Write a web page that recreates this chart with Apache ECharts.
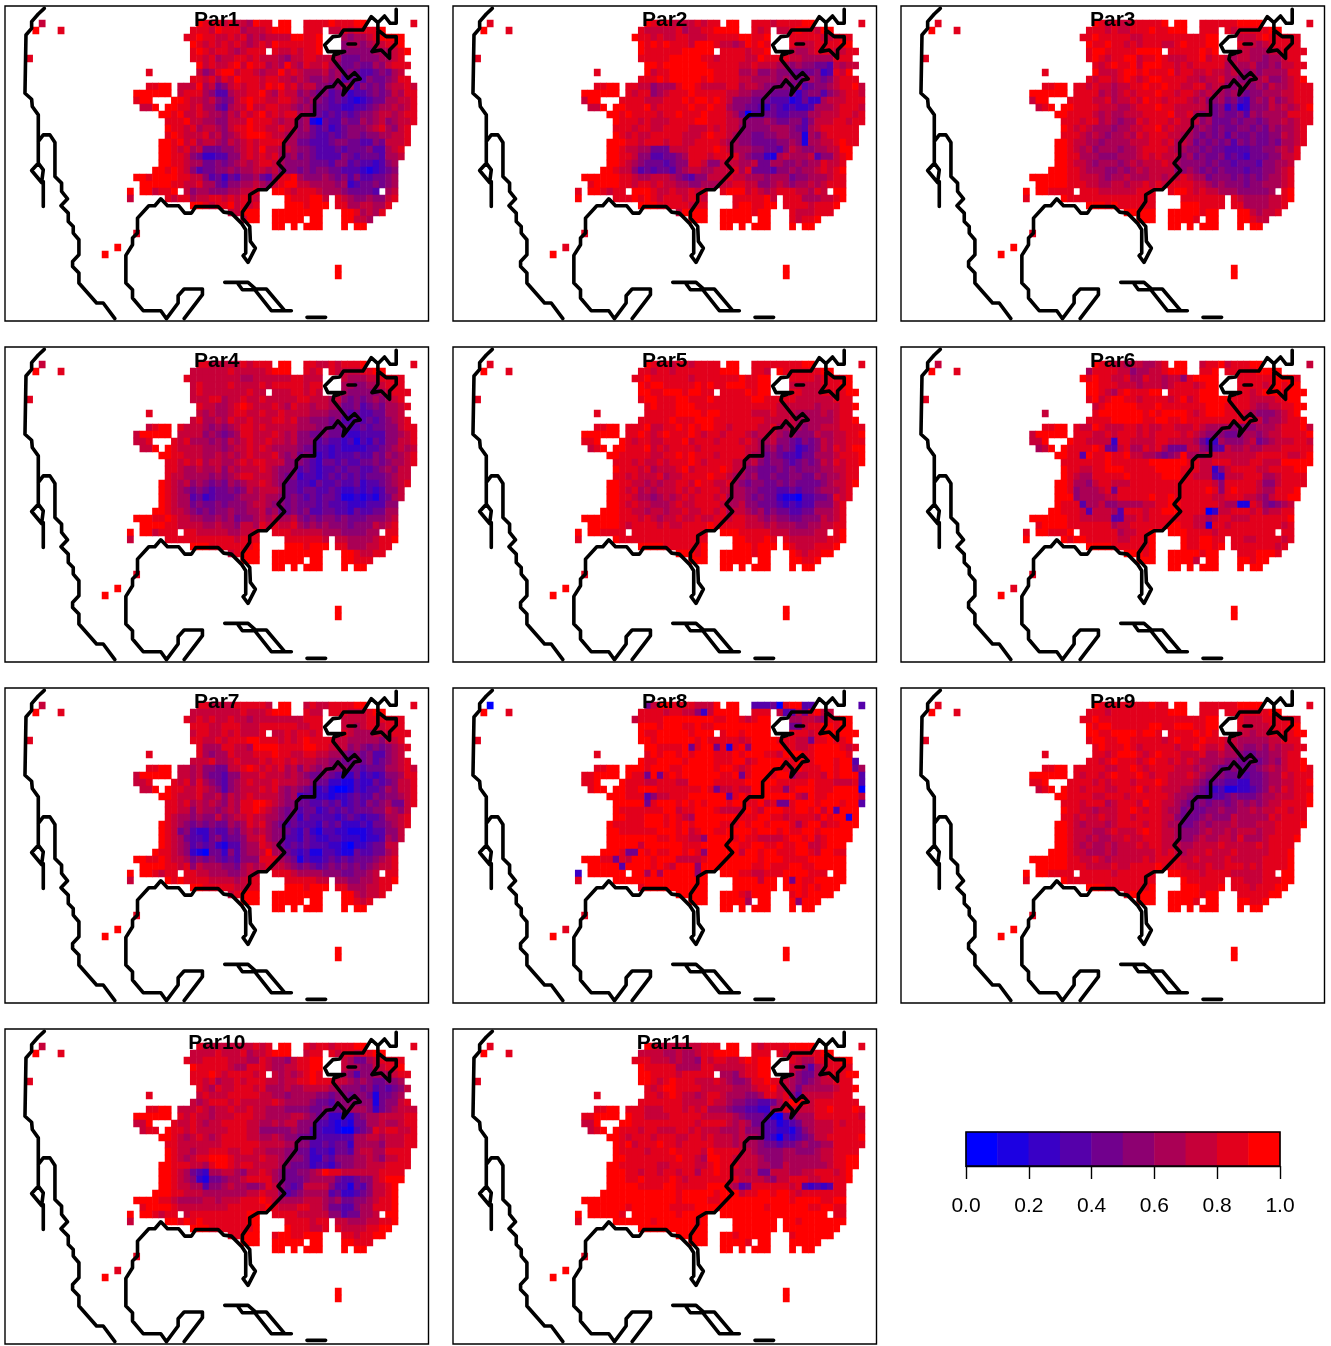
<!DOCTYPE html>
<html><head><meta charset="utf-8">
<style>html,body{margin:0;padding:0;background:#fff}#c{width:1331px;height:1346px}</style>
<script src="https://cdn.jsdelivr.net/npm/echarts@6/dist/echarts.min.js"></script>
</head><body><div id="c"></div>
<script>
const COLORS=['#0000FF','#1C00E2','#3900C6','#5500AA','#71008D','#8D0071','#AA0055','#C60039','#E2001C','#FF0000'];
const LEGEND_LEVELS=[0.05,0.15,0.25,0.35,0.45,0.55,0.65,0.75,0.85,0.95];
const NAMES=['Par1','Par2','Par3','Par4','Par5','Par6','Par7','Par8','Par9','Par10','Par11'];
const N9='99999 99999 99999 99999 99999 99999 99999 99999 99999';
// land cells, 45 columns starting at column 20
const MASK=[
'..........############.##..##########........',
'.........################..###.#########.....',
'........######################...##########..',
'.........#####################...##########..',
'.........############.########...###########.',
'.........##################################..',
'..........##################################.',
'..........#################################..',
'.........###################################.',
'..####.######################################',
'######.######################################',
'###...#######################################',
'.###.########################################',
'....#########################################',
'.....########################################',
'.....#######################################.',
'.....#######################################.',
'....########################################.',
'....#######################################..',
'....#######################################..',
'....######################################...',
'...#######################################...',
'##########################################...',
'.#########################################...',
'.######.############..#################.##...',
'.....###############....#######.##########...',
'.........###########....#######.#########....',
'...............#####..########...#######.....',
'.................###..#####.##...#####.......',
'......................##.#.###...#.##........'];
// isolated cells outside the main block: [column,row]
const ISO_CELLS=[[5,0],[4,1],[8,1],[3,5],[22,7],[64,0],[19,24],[19,25],[20,30],[17,32],[15,33],[52,35],[52,36]];
const ISO_VALUES=[
'7988889789999','8988888988999','8988889889999','7988889789999','8988889889999','7988778988999',
'7988889789999','0988832888999','8988889889999','7988889788999','8988889889999'];
const PAR1=[
'99999 99999 98887 87769 88999 99888 89888 99999 99999',
'99999 99998 88798 88677 78999 99888 77787 88889 99999',
'99999 99988 98877 87867 67777 99889 77765 66789 99999',
'99999 99999 87878 78767 87988 88889 66656 65677 88999',
'99999 99998 98788 76788 89877 87889 66555 55566 67899',
'99999 99998 87867 78878 77765 77887 77644 45556 67889',
'99999 99998 97877 89798 86769 76877 86544 54465 78889',
'99999 99997 75689 97887 67797 87666 75645 43345 46788',
'99999 99998 87868 79888 78877 67655 65634 43544 56889',
'99889 99777 96745 78788 79897 86775 54566 35454 67787',
'99999 98788 86533 67788 97687 75654 53442 33454 57688',
'89999 99987 76754 57898 87788 76565 43432 12344 66778',
'77799 99887 86643 67797 78877 65654 43322 33456 67678',
'99999 98977 87665 76878 97878 86654 34343 45567 76788',
'99999 88897 76655 77798 88767 75610 43354 46567 56778',
'99999 98878 67765 78898 87787 75643 42345 55678 65788',
'99999 89877 78675 67899 98776 65543 34345 54556 67788',
'99999 98978 67765 76787 88886 64433 34554 43354 77788',
'99999 98786 74445 56787 97767 65543 33434 44533 67889',
'99999 98875 42233 55787 87865 64543 33354 34443 66789',
'99999 98876 64454 56767 88765 55544 43553 43323 56888',
'99999 89875 34455 65667 76755 54545 54433 32123 45889',
'99899 99887 75342 43556 43688 96555 65453 53344 56999',
'89999 98877 86643 55667 65789 97766 66562 34454 56899',
'99978 89775 66555 66778 89998 78887 66654 44434 67899',
'99889 87886 77887 87887 78889 88899 78876 55655 78999',
'99999 98899 98788 97878 88899 99899 99886 67766 87999',
'99999 99999 99997 77999 99999 99999 99999 86768 89999',
'99999 99999 99999 99799 99999 99999 99999 77688 99999',N9];
const PAR2=[
'99999 99999 98887 77787 88999 99888 78888 99999 99999',
'99999 99998 77777 86778 89999 99878 87789 88799 99999',
'99999 99998 87877 88777 88888 99889 98888 88877 88899',
'99999 99999 89898 88799 98776 79898 98887 77888 89999',
'99999 99999 88888 89999 99888 87889 98876 67888 77889',
'99999 99998 88889 99998 87888 87798 88877 66666 88889',
'99999 99999 99899 99999 88888 77877 76656 55443 76777',
'99999 99998 97889 99999 98888 66755 65544 44523 87999',
'99999 99998 88989 99998 98888 77666 65654 56545 78889',
'99889 99887 75666 89987 77788 67765 55546 34556 78897',
'99999 98878 85678 88988 88877 66555 44442 45535 67887',
'79999 98888 77788 89899 89875 55444 33312 42267 77888',
'77799 99888 97888 88988 98865 54432 43232 23666 78887',
'99999 98988 88788 98889 88876 40334 43344 46677 78878',
'99999 98887 87778 88899 88877 65556 54455 35777 88788',
'99999 88878 87788 88777 87877 55555 66654 36788 88888',
'99999 98787 78888 87778 98876 55445 56655 16578 88887',
'99999 99887 88878 87788 88766 55444 45565 16677 89888',
'99999 98776 64447 77888 89876 66554 43576 55667 79988',
'99999 98875 53344 56888 78888 65442 16766 67355 78999',
'99999 98765 44434 55887 55777 66744 66556 56687 78999',
'99999 87753 43443 56776 67778 68444 35565 66787 89889',
'99999 98876 67776 54355 77787 76665 66645 56667 88899',
'88999 98878 87877 66556 66778 87755 67656 67678 88899',
'99987 88899 98778 77878 88899 97876 78887 76878 99999',
'99888 88898 98788 87887 89888 88889 77888 66677 89999',
'99999 99899 99888 88788 88998 99889 99888 87888 99999',
'99999 99999 99988 79999 99999 99899 99887 77888 99999',
'99999 99999 99999 99999 99999 99999 99887 88999 99999',N9];
const PAR3=[
'99999 99999 98787 78888 89999 99888 88899 99999 99999',
'99999 99998 88787 78889 88999 99888 88788 88899 99999',
'99999 99988 98888 87788 88888 88899 99877 78988 88899',
'99999 99999 88988 78788 87789 88899 98887 76788 88899',
'99999 99998 99888 88999 98888 88989 88877 66677 88889',
'99999 99998 98788 99788 98777 88978 87677 66566 78889',
'99999 99999 87898 89799 98878 78888 86766 75565 77889',
'99999 99998 97778 99898 88978 87787 76765 65666 68889',
'99999 99998 78878 98789 98888 77677 86655 66755 67899',
'99889 99887 87767 78898 89887 78867 75566 56576 67888',
'99999 98888 86767 87888 98878 87676 65654 55666 77888',
'79999 98888 77867 78798 87888 76755 64532 56575 67888',
'77899 99888 87776 67888 98877 77764 52412 55576 76789',
'99999 98888 76766 77788 88977 86564 54453 65666 68888',
'99999 88878 86765 66878 88787 77564 44545 54566 76788',
'99999 98787 66656 67788 97877 75654 54455 45465 66788',
'99999 88876 76566 76878 88776 65454 53544 54455 76788',
'99999 98776 65666 67778 87867 64545 45354 54454 66789',
'99999 98767 56665 66788 88766 55454 43333 44556 76889',
'99999 98866 65556 66787 87775 64544 53432 44455 77899',
'99999 98776 56665 67677 78765 55545 44344 43556 67899',
'99999 98876 66556 56767 77755 65454 54443 44556 78899',
'99999 98877 76566 76667 76778 76645 55454 54566 78899',
'99999 98887 76677 67787 87888 87765 65554 55666 78999',
'99988 88888 87777 77888 88899 87877 66655 55567 89999',
'99888 98888 88888 88888 89888 88888 88876 66677 89999',
'99999 89899 99898 88888 88999 99888 88886 66677 89999',
'99999 99999 99999 99999 99999 99899 88999 76778 89999',
'99999 99999 99999 99999 99999 98999 99999 87789 99999',N9];
const PAR4=[
'99999 99999 88777 77878 88999 99887 78788 89999 99999',
'99999 99987 77777 87777 78999 99878 88777 78899 99999',
'99999 99987 77777 77667 77777 88777 88776 66778 88899',
'99999 99997 87777 87777 87888 88788 77766 55667 88899',
'99999 99987 87777 77787 78777 88787 77665 55556 78889',
'99999 99987 77886 77877 87777 78877 76754 54565 67889',
'99999 99988 87766 78987 77876 87767 76644 53454 66789',
'99999 99987 76766 78877 87787 77766 65543 43344 66789',
'99999 99987 86676 87787 77887 86655 54533 43434 56789',
'99789 98877 76565 67887 87777 76665 54443 34344 55788',
'79999 98777 75654 56887 77876 75544 54432 23333 55678',
'77889 98786 66565 76787 78776 75553 43323 13243 55778',
'67799 98777 76665 67787 87666 65443 32322 22334 56767',
'99999 98877 76676 76787 77865 64542 32333 43354 65678',
'99999 88787 86776 67878 87775 55432 44343 34454 56678',
'99999 88766 76675 76777 87655 53432 33434 43345 65778',
'99999 87766 66565 67887 77654 52332 34343 43444 56778',
'99999 87675 65454 65677 87654 43324 33433 42334 56789',
'99999 87654 54344 54576 77764 43443 34322 32323 55789',
'99999 87663 42344 45666 76654 54343 44311 21213 46789',
'99999 87664 54454 55567 76554 54443 43332 22333 55788',
'99999 87765 45455 65566 75644 54533 44332 43344 66889',
'99988 98776 65565 64556 76766 75454 55454 44555 67899',
'89999 88777 76676 65776 87877 86565 65554 55576 78899',
'99978 88888 77777 66778 88888 77777 66655 55667 88899',
'99889 88888 88888 87888 88888 88888 77776 66678 89999',
'99999 89899 99888 88889 98999 99899 99886 66778 89999',
'99999 99999 99997 78999 99999 99999 99999 87788 99999',
'99999 99999 99999 99999 99999 99999 99999 88899 99999',N9];
const PAR5=[
'99999 99999 98887 88788 88999 99888 88888 99999 99999',
'99999 99998 87887 88888 88999 99887 89888 88899 99999',
'99999 99988 98888 88788 88888 98899 99888 88788 88999',
'99999 99999 89988 88898 98899 98899 98877 77788 89999',
'99999 99999 98899 98998 89888 89899 98888 77788 88999',
'99999 99998 99888 99888 98888 88998 88887 77777 88899',
'99999 99998 89888 99988 88888 88888 87777 77677 78899',
'99999 99998 88888 99998 99888 88777 87776 66676 78899',
'99999 99998 88889 88899 98888 88887 77776 66666 78899',
'99889 99888 97788 98989 98878 88877 86676 56677 78888',
'99999 99889 87898 88987 88788 87677 76565 55766 77889',
'88999 99878 87788 89788 87888 78766 75543 54576 77888',
'87899 99888 97878 88878 88888 87765 64542 34576 87899',
'99999 98888 87788 98988 87888 87664 54332 44666 78889',
'99999 88878 77878 88987 88887 76754 55434 54576 87889',
'99999 98887 86777 89788 88987 75544 45454 55566 77889',
'99999 88787 77867 78888 98876 65644 54455 44656 67889',
'99999 98877 67677 88798 87786 54554 45454 44456 77899',
'99999 98786 76777 87878 88776 65544 43343 44566 67899',
'99999 98876 65676 78788 87866 65454 42110 33445 87899',
'99999 98787 76667 87788 88766 75544 43232 33555 78899',
'99999 98877 67767 78778 87867 76564 54433 44666 78899',
'99999 98887 87677 87787 78878 87765 65544 55576 78999',
'99999 98788 88787 78888 98888 87776 76665 56677 88999',
'99988 88888 88888 88888 88999 88888 77766 66778 89999',
'99889 98888 88888 88888 89899 98889 88877 77778 89999',
'99999 89899 99988 88889 98999 99899 99987 77888 99999',
'99999 99999 99999 99989 99999 99899 99998 78899 99999',
'99999 99999 99999 99999 99999 99999 99999 88999 99999',N9];
const PAR6=[
'99999 99999 98877 67766 78999 99788 97888 99999 99999',
'99999 99996 88887 75667 78999 99889 88888 89999 99999',
'99999 99998 98877 86687 76775 89999 88888 88889 99899',
'99999 99999 98887 77677 76788 87899 99988 88789 89999',
'99999 99999 98768 98889 98888 88999 98888 78999 89999',
'99999 99998 97899 88788 88789 78999 99888 77778 89999',
'99999 99988 78999 99888 98888 88899 98888 76677 88999',
'99999 99997 89999 99989 89999 87899 98887 65556 78999',
'99999 99988 88899 99988 99889 88888 88888 77566 78899',
'99889 99877 98777 88787 78877 78766 66555 56667 88897',
'79999 99888 77878 88787 88887 87655 54456 65677 88889',
'77999 99887 77728 87777 88777 76422 65556 74567 77887',
'66799 98888 98437 86687 86444 77543 37667 66777 88888',
'99999 98839 88988 97766 54569 66677 77777 78888 87789',
'99999 88888 88988 88889 99999 88778 88777 88777 99999',
'99999 98877 88999 88888 99998 88772 57888 87788 88999',
'99999 98766 88888 98888 89998 87773 27778 88667 88889',
'99999 98665 78877 78888 88888 88887 58888 87557 88889',
'99999 98566 67848 88888 88888 88898 58988 87668 88999',
'99999 99566 66778 88889 88988 88887 78887 76578 89999',
'99999 88836 67556 66677 88998 88888 76611 87545 67889',
'99999 88873 77763 88878 89998 88802 77888 78677 88899',
'99999 98877 77733 77878 88888 87767 88777 88888 89999',
'88999 98888 88867 78888 88998 87718 87888 88888 78889',
'99988 89988 88886 77889 98999 88887 88888 88888 88799',
'99889 98998 88887 78889 89899 88998 88887 78888 78999',
'99999 89899 99988 88889 98999 88998 99888 88887 89999',
'99999 99999 99999 99989 99999 99899 99988 89998 99999',
'99999 99999 99999 99999 99999 97999 99999 89999 99999',N9];
const PAR7=[
'99999 99999 88777 78888 87999 99787 78888 99999 99999',
'99999 99987 77777 77877 78999 99877 88887 77899 99999',
'99999 99987 87877 87767 77777 77888 78877 77888 88899',
'99999 99998 88778 88777 88888 87788 98877 67887 88899',
'99999 99997 88778 78777 88778 78878 88887 66677 78889',
'99999 99998 87787 88899 88878 78988 88776 66665 77889',
'99999 99997 86668 87769 99988 88998 87775 65454 56789',
'99999 99997 86566 87778 88988 77887 76654 54533 56788',
'99999 99987 77866 78777 87887 87776 65544 54534 56788',
'99889 99776 75544 77898 78786 75765 65554 43444 66787',
'79999 98776 75443 55777 87776 76544 54322 42323 55688',
'77899 98786 86543 56787 77877 76654 42211 32243 45778',
'67799 98877 87653 56777 87865 65432 31001 32334 65778',
'99999 98777 86675 76787 77765 62332 21223 43354 55678',
'99999 88786 76765 76889 98765 54433 43423 43545 64478',
'99999 88775 76656 76889 87654 53442 34343 44455 76578',
'99999 87665 65575 67787 76654 42433 33234 32334 66788',
'99999 87654 54544 65687 86543 43332 43422 23244 56789',
'99999 87453 22433 54676 76554 32421 33221 11233 55789',
'99999 87643 32453 44577 86553 32432 23322 21223 65789',
'99999 87653 43421 33566 87643 43433 32210 22344 77899',
'99998 87652 10442 53566 79664 32311 33211 43344 67899',
'99889 87764 54543 43555 88865 41322 34343 44456 78899',
'89999 88785 76665 54676 78776 54543 45454 54567 78899',
'99987 88788 77666 55677 88888 76666 55544 55678 88999',
'99889 98988 88777 76788 88888 88887 77665 56678 89999',
'99999 99899 98888 87788 88999 99899 99886 66778 89999',
'99999 99999 99997 78999 99999 99999 99999 76778 99999',
'99999 99999 99999 99999 99999 99999 99999 87889 99999',N9];
const PAR8=[
'99999 99999 47998 88877 79999 99333 40899 33709 99999',
'99999 99988 88878 87752 79999 99888 77337 48977 99999',
'99999 99978 88899 99999 98899 87899 99366 77658 89999',
'99999 99999 99899 98898 89999 99999 98844 78899 89999',
'99999 99999 88999 99899 98899 89999 99988 87899 99999',
'99999 99999 98999 99989 88888 78999 98887 74889 88999',
'99999 99999 99888 89489 94818 95999 99887 78999 98789',
'99999 99999 89899 89899 98889 89998 87999 88999 99899',
'99999 99999 88999 98999 98889 97899 99889 88999 89938',
'98889 99999 89998 89999 98998 78999 99889 88899 89946',
'88999 99988 49489 89999 99889 48999 89957 78879 89993',
'88999 99888 77888 77999 98888 89999 98888 89888 77783',
'88999 99889 99888 88889 84778 77999 88589 99888 99990',
'99999 99888 35778 88999 99938 98999 99997 69889 99997',
'99999 99999 48999 89898 99989 98897 84489 99899 98993',
'99999 98888 88899 78899 98777 79879 99889 98979 39999',
'99999 99888 99989 87699 99999 88899 88788 88798 99199',
'99999 88888 99989 89899 99888 98998 99986 89978 89999',
'99999 98888 88999 89789 98899 99899 98988 99899 99999',
'99999 99999 99889 88775 99998 98877 77899 89789 99999',
'99999 99997 99999 98889 99999 88998 89889 97789 99999',
'99999 98449 89889 98985 99999 79989 98889 98799 88999',
'99988 48799 98999 77778 99999 99989 99888 89999 99999',
'99999 93999 98987 99959 99999 99889 88899 88999 99999',
'99999 99999 69699 99959 99999 88778 88999 98889 99999',
'99999 99999 99999 99999 99999 99979 99949 88999 99999',
'99999 99998 99999 99999 99999 99999 99999 89899 99999',
'99999 99999 99999 99999 99999 87999 99989 89999 99999',
'99999 99999 99999 99999 99999 96999 99995 99999 99999',N9];
const PAR9=[
'99999 99999 98888 88889 88999 99888 88899 99999 99999',
'99999 99998 88788 88888 88999 99888 88888 88899 99999',
'99999 99988 98888 88888 88888 88899 99887 77888 88899',
'99999 99999 89988 88889 98899 98899 98887 77788 89999',
'99999 99999 98899 99899 89888 89898 88877 67788 88999',
'99999 99998 99889 98888 87898 88988 87766 66677 88899',
'99999 99998 89888 98788 88878 89877 86765 56576 77889',
'99999 99998 88789 99878 98887 77866 76654 45566 78899',
'99999 99998 87898 88789 88787 87666 65544 54565 78899',
'99889 99888 88778 89878 88877 76765 44544 45676 78898',
'99999 98878 87898 88987 88777 87655 54443 44566 87888',
'88999 98888 78788 87888 98777 76544 43322 44566 77889',
'87899 98878 88778 88978 87776 65432 31122 34576 87888',
'99999 98888 77888 78888 88766 54433 34544 45667 77889',
'99999 88878 88678 88798 87765 44545 54565 65677 88889',
'99999 98877 67778 89878 87664 54455 65566 76778 87888',
'99999 88787 78778 87888 87754 44565 55766 66687 88889',
'99999 98767 77678 88878 87664 45656 66766 67778 88899',
'99999 98777 66787 77898 87765 55676 67677 76778 88899',
'99999 98776 76677 87788 87765 56766 77686 66788 88999',
'99999 98767 66767 77878 87776 67777 87777 78788 88999',
'99999 98776 66767 77777 87876 77787 77877 77788 89999',
'99999 98877 87677 77787 88887 78777 78777 77888 89999',
'99999 98887 77787 78888 98888 77787 78887 87888 89999',
'99988 88888 88878 88888 88998 88788 88777 77888 99999',
'99889 98888 88888 88888 89899 88888 88887 77888 99999',
'99999 89899 99888 88889 98999 99888 99888 78889 99999',
'99999 99999 99998 89999 99999 99899 99988 88899 99999',
'99999 99999 99999 99999 99999 98999 99999 88999 99999',N9];
const PAR10=[
'99999 99999 87777 77778 78999 99878 87888 99999 99999',
'99999 99987 77787 77867 78999 99788 88788 78899 99999',
'99999 99987 78888 77766 87665 78899 88776 44678 88899',
'99999 99999 88888 76688 87667 78899 88876 65577 88999',
'99999 99998 88987 88887 87767 67898 88765 35566 67889',
'99999 99998 87867 78788 87767 78898 88776 56544 55678',
'99999 99998 87687 78887 86667 66777 76655 54534 34578',
'99999 99997 78777 88888 77665 66665 54554 55414 45678',
'99999 99987 67888 78777 77876 66654 43555 55514 55788',
'99889 98777 87677 87787 76665 55544 54456 66524 56777',
'99999 98878 77677 78887 76666 77654 42222 45667 77788',
'77999 98778 76778 88877 66767 75553 32121 44667 66788',
'77889 98878 77777 88877 55555 65533 22100 34587 88778',
'99999 98767 87678 88877 66765 54433 33333 66776 77788',
'99999 88777 77778 88888 77776 65533 43442 66665 77788',
'99999 98776 77888 77887 76665 54423 32443 67766 88888',
'99999 98767 88999 87777 87765 55422 43555 66765 77888',
'99999 98887 76899 87887 77765 44423 32455 66777 88888',
'99999 98764 32667 76577 87654 45567 98877 77778 88899',
'99999 98765 21445 66788 88654 44566 66433 45578 99999',
'99999 98776 63556 76655 68754 34777 75331 43577 89999',
'99999 98877 76666 66677 87753 45666 63422 34577 89999',
'99998 87666 67767 77888 98766 66777 65644 55678 89999',
'88999 98777 77777 88888 89877 78877 64433 56688 89999',
'99987 88878 88888 88899 98888 87777 75534 46678 99999',
'99889 99898 98888 88899 89888 88878 87776 66778 89999',
'99999 99999 99888 88889 98999 88877 88877 77889 99999',
'99999 99999 99988 88999 98899 88999 99888 78899 99999',
'99999 99999 99999 99999 99999 99899 99999 88899 99999',N9];
const PAR11=[
'99999 99999 98777 77778 88999 99878 88899 99999 99999',
'99999 99987 77766 76678 89999 99888 88788 88899 99999',
'99999 99988 87776 76658 78877 89899 98887 66888 89999',
'99999 99999 88888 66668 87777 78899 99877 53678 88899',
'99999 99999 98888 78888 87665 78899 88875 44678 88999',
'99999 99999 98789 88877 78765 56889 88765 45677 88899',
'99999 99998 87899 88887 77776 66788 97764 66666 78899',
'99999 99999 88789 87767 88766 65568 87853 77777 88899',
'99999 99998 88888 87777 87765 54433 46899 87888 88889',
'99889 99888 77788 87878 66654 43322 66887 77889 88898',
'88999 99988 77778 88887 77776 54443 10446 66888 88887',
'77999 99988 88888 88878 88876 76443 31234 66777 87888',
'77899 98887 88777 88787 77666 75553 32213 56777 88888',
'99999 98788 87888 77887 87776 76653 20323 45778 88889',
'99999 98978 88988 78888 87776 76654 43445 65566 88888',
'99999 98888 78889 88887 98888 77655 55665 55677 88888',
'99999 99888 88888 98876 99887 77765 55666 66677 88999',
'99999 98888 88778 88877 89888 77766 55766 66667 88999',
'99999 99887 88788 78868 89887 76744 77766 77888 78999',
'99999 99889 88889 87888 88888 77776 57788 87788 88999',
'99999 99998 88899 88888 99976 34888 88878 32323 88899',
'99999 99999 99999 89999 98999 78899 89987 88888 88999',
'99999 99999 99999 89999 88999 99999 99989 99988 99999',
'99999 99899 99998 88899 99999 99998 99999 98899 88899',
'99999 98999 99999 89999 99999 99999 99999 99999 88999',
'99999 99999 98999 99989 99999 99999 99998 99999 99999',N9,
'99999 99999 99999 99999 99998 99999 99989 99999 99999',
'99999 99999 99999 99999 99999 98999 99999 99999 99999',N9];
// coastline traced in map units
const COAST_WEST=[[133,25],[115,42],[95,65],[95,85],[78,105],[75,280],[95,298],[97,320],[115,345],[115,490],[95,512],[125,548],[130,545],[130,510],[115,490]];
const COAST_BAJA_TAIL=[[130,545],[130,620]];
const COAST_MAIN_PAC=[[115,425],[130,405],[150,405],[165,428],[165,530],[185,550],[185,575],[203,597],[183,618],[205,640],[205,665],[220,680],[220,700],[237,720],[237,765],[218,785],[218,800],[237,820],[237,850],[290,910],[310,910],[345,957]];
const COAST_GULF=[[553,957],[608,885],[608,868],[553,868],[535,888],[535,910],[500,957],[483,933],[430,933],[398,895],[398,870],[378,850],[378,767],[398,735],[398,715],[413,700],[413,655],[447,618],[465,618],[483,597],[503,618],[537,618],[555,640],[575,640],[588,620],[655,620],[672,637],[695,640],[725,670],[738,690],[738,760],[730,768],[745,788],[767,745],[752,725],[750,680],[728,655],[728,637],[750,605],[750,585],[775,570],[800,570],[855,512],[835,490],[852,470],[852,430],[890,380],[890,360],[905,345],[945,345],[945,300],[980,262],[1000,260],[1015,240],[1035,262],[1030,285],[1065,240],[1082,237],[1065,218],[1045,235],[1000,178],[1003,165],[1035,155],[985,155],[975,135],[1000,110],[1020,108],[1032,90],[1090,90],[1115,50],[1135,68],[1155,48],[1172,70],[1190,70],[1190,28]];
const COAST_STAR=[[1135,68],[1135,130],[1117,155],[1145,150],[1170,175],[1170,150],[1190,130],[1190,110],[1160,110],[1135,90]];
const LAKE=[[1045,132],[1068,132]];
const CUBA=[[675,848],[745,848],[768,868],[800,868],[855,933],[875,933],[815,933],[765,870],[728,870],[715,852]];
const ISLE=[[922,953],[978,953]];
const COASTS=[COAST_WEST,COAST_BAJA_TAIL,COAST_MAIN_PAC,COAST_GULF,COAST_STAR,LAKE,CUBA,ISLE];
const MAP_X=[15,1287], MAP_Y=[18,964];
const TICK_INTERVAL=0.2;
const ALL=[PAR1,PAR2,PAR3,PAR4,PAR5,PAR6,PAR7,PAR8,PAR9,PAR10,PAR11];
const LEFTS=[5,453,901], TOPS=[6,347,688,1029];
const PW=423.5, PH=315;
const CW=6.3, RH=7, NC=65, NR=37, C0=20;
const colCats=Array.from({length:NC},(_,i)=>String(i)), rowCats=Array.from({length:NR},(_,i)=>String(i));
const coastData=[]; COASTS.forEach(s=>{s.forEach(p=>coastData.push(p));coastData.push([null,null]);});
const grid=[],xAxis=[],yAxis=[],series=[],title=[];
ALL.forEach((rows,i)=>{
  const px=LEFTS[i%3], py=TOPS[Math.floor(i/3)];
  const data=[];
  rows.forEach((row,r)=>{
    const s=row.replace(/ /g,''), m=MASK[r];
    for(let p=0;p<s.length;p++){ if(m[p]==='#') data.push([p+C0,r,(+s[p])/10+0.05]); }
  });
  ISO_CELLS.forEach((cell,k)=>data.push([cell[0],cell[1],(+ISO_VALUES[i][k])/10+0.05]));
  grid.push({left:px+2.5,top:py+14,width:CW*NC,height:RH*NR,show:false});
  xAxis.push({type:'category',gridIndex:2*i,data:colCats,show:false});
  yAxis.push({type:'category',gridIndex:2*i,data:rowCats,inverse:true,show:false});
  grid.push({left:px,top:py,width:PW,height:PH,show:true,borderColor:'#000',borderWidth:1.4,backgroundColor:'transparent'});
  xAxis.push({type:'value',gridIndex:2*i+1,min:MAP_X[0],max:MAP_X[1],show:false});
  yAxis.push({type:'value',gridIndex:2*i+1,min:MAP_Y[0],max:MAP_Y[1],inverse:true,show:false});
  series.push({type:'heatmap',xAxisIndex:2*i,yAxisIndex:2*i,data:data,z:2,silent:true,progressive:0,itemStyle:{borderWidth:0}});
  series.push({type:'line',xAxisIndex:2*i+1,yAxisIndex:2*i+1,data:coastData,showSymbol:false,symbol:'none',z:3,silent:true,clip:true,connectNulls:false,
    lineStyle:{color:'#000',width:3.6,join:'round',cap:'round'}});
  title.push({text:NAMES[i],left:px+PW/2-5,top:py-1,textAlign:'center',z:10,textStyle:{fontFamily:'Liberation Sans',fontWeight:'bold',fontSize:21,color:'#000'}});
});
const LG=ALL.length*2;
grid.push({left:966,top:1132,width:314,height:34,show:true,borderColor:'#000',borderWidth:1.6,backgroundColor:'transparent',z:5});
xAxis.push({type:'category',gridIndex:LG,data:LEGEND_LEVELS.map(String),show:false});
yAxis.push({type:'category',gridIndex:LG,data:['0'],show:false});
series.push({type:'heatmap',xAxisIndex:LG,yAxisIndex:LG,data:LEGEND_LEVELS.map((v,k)=>[k,0,v]),z:2,silent:true});
grid.push({left:966,top:1132,width:314,height:34,show:false});
xAxis.push({type:'value',gridIndex:LG+1,min:0,max:1,interval:TICK_INTERVAL,position:'bottom',splitLine:{show:false},
  axisLine:{show:true,lineStyle:{color:'#000',width:1.4}},axisTick:{show:true,inside:false,length:13,lineStyle:{color:'#000',width:1.4}},
  axisLabel:{show:true,color:'#000',fontSize:21,fontFamily:'Liberation Sans',margin:30,formatter:v=>v.toFixed(1),hideOverlap:false,showMinLabel:true,showMaxLabel:true}});
yAxis.push({type:'value',gridIndex:LG+1,min:0,max:1,show:false});
const pieces=COLORS.map((c,k)=>({min:k/10,max:(k+1)/10,color:c}));
const chart=echarts.init(document.getElementById('c'),null,{renderer:'canvas',width:1331,height:1346});
chart.setOption({animation:false,backgroundColor:'#fff',title,grid,xAxis,yAxis,series,
  visualMap:{type:'piecewise',show:false,dimension:2,pieces,seriesIndex:series.map((s,i)=>s.type==='heatmap'?i:-1).filter(i=>i>=0)}});
</script></body></html>
